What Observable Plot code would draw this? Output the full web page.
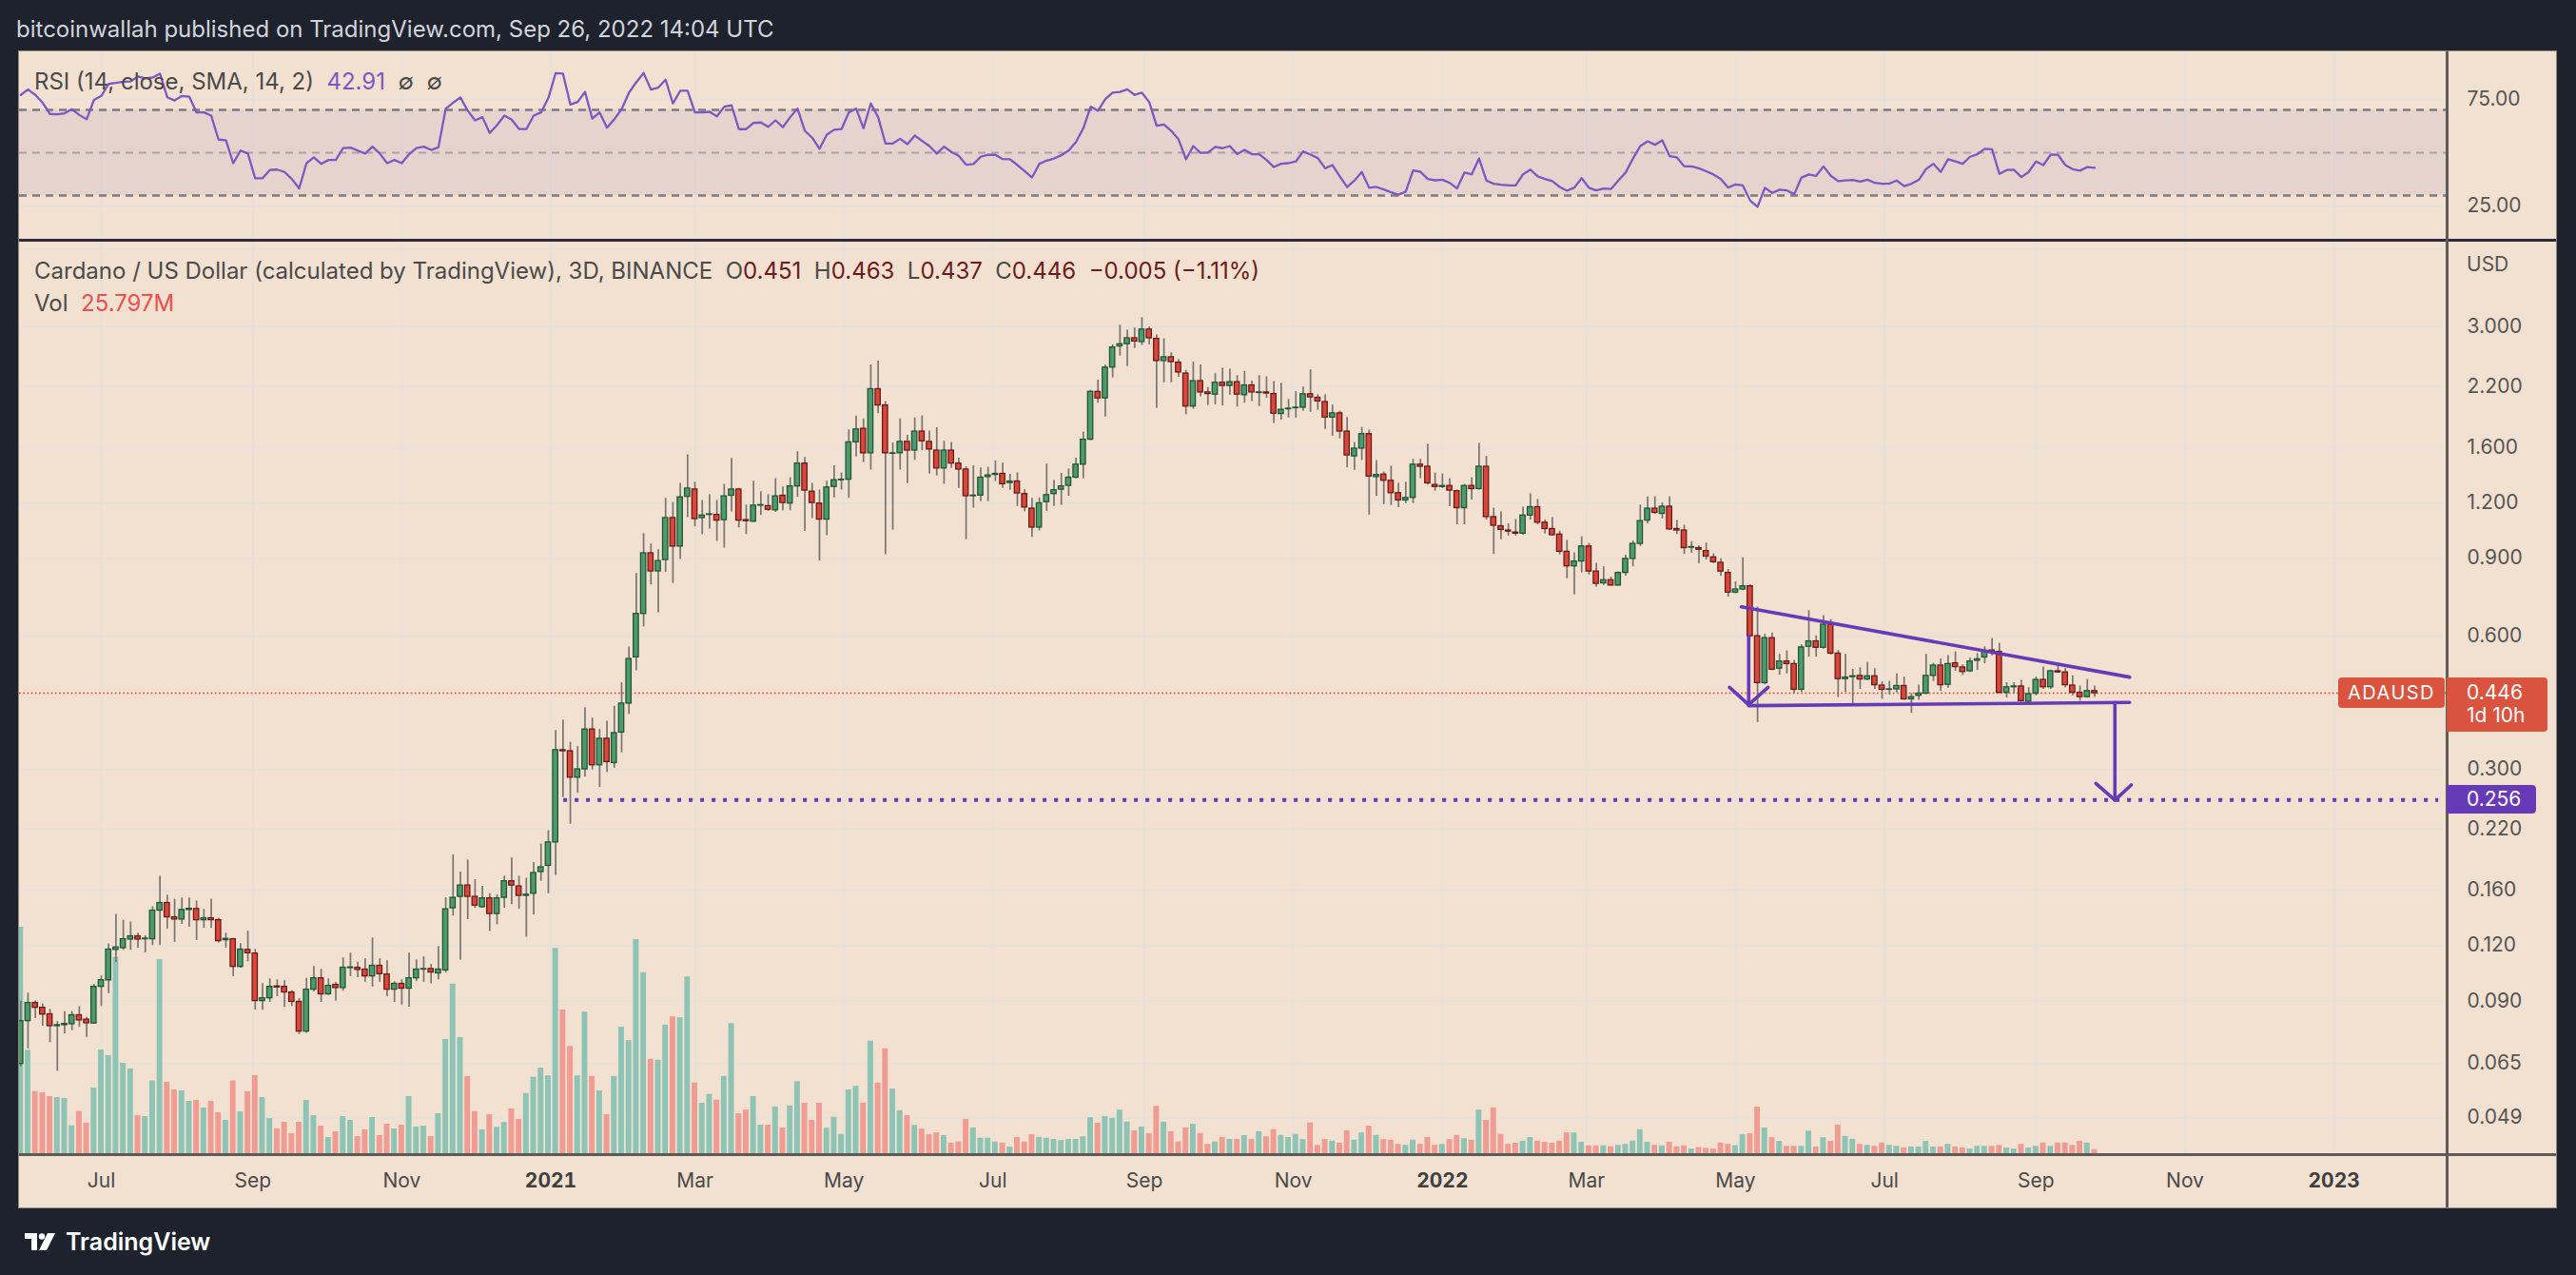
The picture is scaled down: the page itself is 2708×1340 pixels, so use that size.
<!DOCTYPE html>
<html><head><meta charset="utf-8">
<script src="https://cdn.jsdelivr.net/npm/d3@7"></script>
<script src="https://cdn.jsdelivr.net/npm/@observablehq/plot@0.6"></script>
<style>
html,body{margin:0;padding:0;background:#1e222d;}
body{width:2708px;height:1340px;position:relative;overflow:hidden;font-family:Inter,Roboto,"Noto Sans",sans-serif;}
#header{position:absolute;left:17px;top:17px;font-size:24px;line-height:28px;color:#d1d4dc;white-space:pre;}
#frame{position:absolute;left:20px;top:54px;width:2667px;height:1215px;background:#f2e1d0;box-shadow:0 0 0 1px #8f8a86;overflow:hidden;}
.layer{position:absolute;left:0;}
.legend{position:absolute;left:16px;font-size:24px;line-height:28px;color:#4a4a4a;white-space:pre;}
.sep{position:absolute;}
.box{position:absolute;color:#fff;font-size:20px;box-sizing:border-box;}
#logo{position:absolute;left:26px;top:1290px;display:flex;align-items:center;gap:9px;color:#fff;font-size:25px;font-weight:600;}
</style></head><body>
<div id="header">bitcoinwallah published on TradingView.com, Sep 26, 2022 14:04 UTC</div>
<div id="frame"></div>
<div id="logo"><svg width="34" height="22" viewBox="0 0 34 22"><path d="M0 2H13V20H7V8H0Z" fill="#fff"/><circle cx="18" cy="5.5" r="3.2" fill="#fff"/><path d="M24 2H32L23 20H15Z" fill="#fff"/></svg><span>TradingView</span></div>
<script>
// ---------- data (3D bars, ADAUSD, from 2020-05-29 every 3 days) ----------
const firstBar = "2020-05-29";
const open = [
.0648,.0810,.0890,.0868,.0839,.0789,.0793,.0797,.0835,.0816,
.0800,.0968,.1001,.1173,.1184,.1238,.1259,.1240,.1240,.1439,
.1497,.1390,.1374,.1444,.1451,.1369,.1383,.1369,.1234,.1240,
.1074,.1173,.1151,.0899,.0912,.0970,.0968,.0940,.0895,.0767,
.0954,.1012,.0931,.0978,.0962,.1067,.1069,.1059,.1022,.1080,
.1032,.0954,.0983,.0959,.1012,.1059,.1062,.1038,.1054,.1457,
.1546,.1640,.1546,.1465,.1534,.1414,.1538,.1676,.1632,.1554,
.1571,.1759,.1817,.2052,.3316,.3298,.2874,.3001,.3693,.3066,
.3519,.3100,.3634,.4226,.5375,.6737,.9236,.8405,.8918,1.1094,
.9565,1.2391,1.2870,1.1094,1.1280,1.1280,1.0976,1.2457,1.2870,1.0976,
1.0887,1.1836,1.1804,1.1553,1.2457,1.1965,1.3079,1.4725,1.2730,1.1965,
1.1005,1.3043,1.3508,1.3545,1.6446,1.765,1.554,2.169,1.993,1.550,
1.554,1.649,1.576,1.740,1.649,1.576,1.436,1.576,1.473,1.428,
1.243,1.247,1.373,1.389,1.396,1.331,1.342,1.257,1.165,1.056,
1.205,1.257,1.286,1.312,1.369,1.465,1.668,2.139,2.068,2.427,
2.710,2.741,2.827,2.772,2.958,2.819,2.511,2.561,2.490,2.353,
1.982,2.262,2.133,2.109,2.243,2.206,2.250,2.103,2.212,2.127,
2.133,2.115,1.907,1.954,1.965,1.970,2.113,2.074,2.029,1.872,
1.913,1.740,1.529,1.592,1.717,1.373,1.391,1.347,1.263,1.216,
1.232,1.465,1.449,1.318,1.304,1.311,1.276,1.168,1.311,1.290,
1.449,1.115,1.063,1.040,1.029,1.023,1.124,1.174,1.083,1.048,
1.018,.931,.863,.885,.957,.840,.790,.803,.781,.834,
.897,.970,1.095,1.165,1.134,1.177,1.048,1.040,.951,.949,
.934,.904,.879,.834,.753,.765,.778,.600,.470,.594,
.507,.526,.519,.454,.568,.584,.565,.637,.548,.480,
.485,.488,.479,.487,.464,.454,.455,.463,.432,.440,
.445,.488,.515,.466,.521,.510,.500,.528,.537,.557,
.553,.447,.460,.462,.427,.445,.478,.460,.500,.497,
.464,.447,.437,.451];
const high = [
.0898,.0937,.0900,.0886,.0861,.0808,.0851,.0851,.0873,.0826,
.0980,.1024,.1210,.1411,.1369,.1356,.1280,.1263,.1468,.1722,
.1560,.1527,.1537,.1537,.1512,.1448,.1527,.1383,.1280,.1245,
.1212,.1293,.1176,.0984,.1009,.1004,.0999,.0949,.0911,.1012,
.1076,.1060,.1009,.0991,.1125,.1153,.1101,.1120,.1248,.1120,
.1109,.0994,.1004,.1153,.1114,.1131,.1087,.1194,.1538,.1923,
.1759,.1872,.1690,.1632,.1571,.1563,.1722,.1892,.1722,.1703,
.1847,.2035,.2183,.3673,.3877,.3453,.3379,.4136,.3919,.3693,
.3856,.4169,.4707,.5670,.8314,1.0233,.9696,.9412,1.2292,1.2029,
1.3291,1.5415,1.3363,1.2160,1.2526,1.2160,1.3220,1.5127,1.2950,1.1868,
1.3436,1.2730,1.2526,1.3618,1.3043,1.3691,1.5667,1.5209,1.3291,1.2834,
1.3436,1.4567,1.4028,1.7546,1.8870,1.857,2.462,2.511,2.033,1.640,
1.857,1.706,1.867,1.888,1.745,1.775,1.654,1.645,1.515,1.448,
1.456,1.440,1.444,1.494,1.477,1.392,1.404,1.286,1.229,1.232,
1.469,1.350,1.400,1.432,1.515,1.735,2.157,2.275,2.462,2.733,
3.026,2.950,2.983,3.148,3.000,2.876,2.819,2.620,2.533,2.393,
2.497,2.462,2.187,2.353,2.420,2.407,2.327,2.380,2.262,2.327,
2.314,2.256,2.236,2.057,2.142,2.194,2.399,2.107,2.107,1.997,
1.933,1.872,1.644,1.778,1.754,1.496,1.410,1.453,1.329,1.336,
1.505,1.505,1.627,1.403,1.395,1.362,1.283,1.322,1.369,1.636,
1.529,1.168,1.146,1.077,1.101,1.174,1.259,1.222,1.098,1.112,
1.037,.988,.926,1.007,.972,.877,.861,.816,.838,.914,
.985,1.187,1.239,1.239,1.200,1.239,1.095,1.068,.982,.960,
.974,.921,.898,.849,.796,.902,.783,.698,.606,.610,
.546,.556,.529,.574,.685,.601,.668,.654,.557,.546,
.505,.509,.523,.507,.473,.474,.493,.485,.445,.465,
.546,.521,.533,.543,.553,.517,.536,.548,.568,.593,
.578,.471,.471,.477,.459,.485,.511,.503,.522,.507,
.488,.463,.479,.463];
const low = [
.0638,.0701,.0821,.0789,.0724,.0624,.0758,.0771,.0784,.0744,
.0797,.0874,.0934,.1099,.1171,.1171,.1184,.1155,.1200,.1200,
.1307,.1220,.1340,.1320,.1232,.1312,.1312,.1216,.1184,.1021,
.1067,.1103,.0858,.0857,.0893,.0920,.0870,.0874,.0755,.0760,
.0943,.0893,.0925,.0898,.0946,.1021,.1015,.0991,.0967,.0991,
.0920,.0893,.0880,.0871,.0996,.0991,.0983,.1004,.1040,.1399,
.1112,.1373,.1457,.1457,.1291,.1337,.1457,.1485,.1449,.1253,
.1407,.1676,.1571,.1727,.2594,.2255,.2651,.2882,.2993,.2731,
.2953,.3017,.3271,.3994,.5009,.6298,.7835,.6774,.8360,.7899,
.8942,1.1124,1.0597,1.0178,1.0484,.9827,.9488,1.1460,1.0540,1.0178,
1.0858,1.1245,1.1490,1.1428,1.1522,1.1522,1.2358,1.0343,1.1064,.8870,
1.0123,1.2325,1.2834,1.2292,1.5251,1.481,1.424,1.910,.917,1.041,
1.424,1.327,1.498,1.576,1.396,1.381,1.323,1.436,1.294,.992,
1.168,1.208,1.208,1.342,1.294,1.282,1.178,1.146,1.004,1.038,
1.149,1.178,1.185,1.243,1.361,1.361,1.659,2.016,1.878,2.301,
2.576,2.441,2.680,2.725,2.733,1.965,2.243,2.243,2.307,1.899,
1.954,2.085,1.993,1.999,1.988,2.103,1.976,2.016,2.033,1.982,
2.068,1.815,1.847,1.867,1.867,1.933,1.923,1.944,1.759,1.699,
1.676,1.441,1.422,1.496,1.127,1.243,1.190,1.184,1.171,1.196,
1.196,1.362,1.318,1.276,1.294,1.177,1.071,1.071,1.219,1.283,
1.098,.918,.991,1.010,1.010,1.015,1.098,1.071,1.021,1.010,
.916,.809,.744,.834,.825,.775,.781,.779,.779,.820,
.861,.957,1.077,1.131,1.104,1.040,1.018,.918,.924,.875,
.892,.875,.819,.736,.748,.760,.597,.383,.466,.502,
.490,.493,.445,.448,.538,.538,.561,.544,.436,.448,
.422,.455,.476,.455,.432,.442,.447,.430,.402,.430,
.443,.474,.450,.458,.500,.489,.497,.502,.520,.542,
.445,.435,.445,.427,.423,.440,.455,.455,.495,.459,
.440,.428,.435,.437];
const close = [
.0810,.0890,.0868,.0838,.0789,.0793,.0798,.0835,.0813,.0801,
.0968,.1002,.1175,.1188,.1240,.1259,.1238,.1244,.1439,.1497,
.1390,.1374,.1444,.1453,.1369,.1383,.1369,.1228,.1242,.1074,
.1175,.1153,.0899,.0912,.0968,.0965,.0940,.0895,.0767,.0954,
.1012,.0931,.0973,.0962,.1069,.1071,.1057,.1022,.1080,.1034,
.0954,.0983,.0959,.1012,.1059,.1062,.1043,.1059,.1449,.1538,
.1640,.1546,.1477,.1534,.1414,.1534,.1676,.1640,.1554,.1563,
.1750,.1803,.2052,.3316,.3298,.2874,.3001,.3693,.3066,.3519,
.3116,.3624,.4226,.5329,.6737,.9236,.8405,.8870,1.1094,.9565,
1.2358,1.2938,1.1035,1.1245,1.1313,1.0946,1.2424,1.2870,1.0946,1.0917,
1.1836,1.1868,1.1584,1.2424,1.1997,1.3079,1.4725,1.2799,1.1997,1.1005,
1.3008,1.3508,1.3545,1.6446,1.7593,1.554,2.169,1.993,1.554,1.554,
1.649,1.576,1.740,1.654,1.585,1.436,1.576,1.473,1.428,1.243,
1.247,1.369,1.385,1.396,1.323,1.342,1.261,1.172,1.056,1.198,
1.250,1.282,1.308,1.369,1.465,1.668,2.139,2.068,2.427,2.695,
2.741,2.827,2.780,2.958,2.827,2.511,2.561,2.497,2.366,1.982,
2.262,2.133,2.115,2.243,2.206,2.250,2.109,2.212,2.133,2.133,
2.121,1.910,1.949,1.960,1.970,2.113,2.079,2.035,1.872,1.913,
1.740,1.537,1.592,1.717,1.377,1.388,1.347,1.263,1.216,1.232,
1.465,1.449,1.329,1.304,1.311,1.280,1.168,1.311,1.290,1.449,
1.115,1.066,1.043,1.034,1.023,1.124,1.174,1.083,1.048,1.015,
.931,.863,.885,.957,.840,.788,.803,.781,.834,.897,
.970,1.092,1.165,1.140,1.177,1.046,1.040,.949,.954,.941,
.908,.882,.840,.753,.765,.778,.600,.470,.594,.504,
.526,.519,.454,.566,.584,.565,.637,.548,.480,.484,
.487,.479,.487,.465,.454,.455,.463,.432,.437,.445,
.488,.515,.465,.519,.511,.498,.526,.532,.555,.553,
.447,.460,.462,.428,.444,.478,.460,.500,.497,.465,
.447,.437,.451,.446];
const volumeM = [
1195,548,332,325,305,300,295,152,227,165,
350,550,520,1037,480,450,205,200,387,1025,
380,340,335,280,285,245,280,220,180,387,
225,330,415,300,190,135,170,110,170,285,
205,150,90,120,200,180,95,130,195,100,
160,135,155,305,145,150,95,215,605,896,
615,411,226,131,210,144,169,240,185,321,
406,455,414,1084,760,569,414,749,411,335,
210,411,670,599,1130,956,501,496,681,724,
719,934,376,270,316,286,411,689,215,234,
305,155,155,251,139,256,384,270,180,270,
139,196,106,340,359,271,596,376,556,345,
231,205,154,134,105,114,100,60,66,185,
140,86,86,66,60,40,91,66,105,91,
86,80,74,80,80,94,194,165,200,191,
234,171,125,145,111,254,171,120,66,140,
160,111,54,66,91,80,80,100,80,120,
94,131,101,90,106,79,166,49,79,71,
60,125,76,114,150,101,79,76,54,49,
76,54,90,49,54,79,101,84,76,234,
180,245,106,54,60,71,90,71,65,60,
71,114,114,65,46,46,46,41,49,54,
71,131,65,49,46,65,41,46,30,37,
33,30,61,54,47,105,110,250,140,89,
70,44,44,44,124,40,89,70,155,96,
80,54,49,44,61,49,44,35,40,40,
70,40,40,54,40,35,30,44,44,44,
49,35,30,54,35,44,61,44,61,61,
49,70,61,25.797];
const rsi14 = [
77.0,79.5,77.0,73.3,68.1,67.9,68.4,70.3,67.6,65.6,
74.7,76.5,82.1,82.6,83.2,83.3,85.6,84.7,85.1,86.9,
75.9,74.4,76.5,76.2,68.8,68.8,67.3,56.1,55.8,45.1,
51.0,49.6,38.0,38.1,41.9,42.1,41.0,37.7,33.3,45.1,
47.8,44.8,46.6,46.6,52.2,52.4,51.0,49.6,52.8,49.6,
45.1,46.6,45.1,49.3,52.2,52.8,51.3,52.5,70.6,73.3,
75.8,69.6,65.1,66.6,59.2,62.9,67.3,65.4,61.1,61.0,
67.3,68.8,75.5,87.2,86.9,72.5,73.7,78.4,65.9,68.8,
61.7,65.6,70.3,78.0,82.9,87.2,79.5,80.4,84.1,73.0,
78.9,78.9,68.8,68.8,69.1,67.0,71.5,72.1,61.0,61.0,
63.9,64.1,62.1,65.1,61.9,66.6,70.6,60.2,57.0,51.8,
58.4,60.7,61.0,68.8,70.6,61.4,73.0,66.6,54.3,54.3,
56.5,54.0,58.0,55.5,53.1,49.6,52.8,50.3,48.5,44.4,
44.7,48.1,49.0,49.0,47.0,46.9,44.2,41.4,38.4,44.8,
46.3,47.3,48.8,51.0,55.0,61.4,71.5,69.6,75.0,78.0,
78.4,79.6,77.0,78.0,73.6,62.6,63.2,60.2,56.2,46.9,
53.1,49.9,50.1,52.7,52.1,53.1,49.3,51.3,49.3,49.3,
46.6,43.3,44.8,45.1,45.9,50.6,49.1,47.5,42.7,44.2,
38.9,33.9,37.0,41.0,33.6,34.0,32.8,31.5,30.4,31.8,
41.7,41.1,37.7,37.1,37.4,35.9,33.3,40.7,39.9,47.3,
37.0,35.5,35.0,34.7,34.7,39.9,42.1,38.9,37.7,36.7,
34.0,32.2,33.7,38.1,33.6,32.4,33.3,33.0,37.0,40.7,
47.3,53.1,55.3,53.7,55.8,48.4,47.8,43.6,43.6,42.7,
41.3,39.8,37.7,33.7,35.2,34.7,27.6,24.7,33.6,31.2,
32.7,32.4,30.6,38.4,39.8,39.2,43.6,39.2,36.7,37.0,
37.3,36.5,37.4,35.9,35.5,35.6,37.0,34.4,35.5,37.3,
42.4,44.8,41.0,46.9,45.9,44.8,48.1,49.3,51.8,51.6,
40.1,41.9,42.0,38.6,41.0,45.9,44.2,49.1,49.0,44.2,
42.3,41.6,43.3,42.91];

// axes / ticks
const timeTickDates = ["2020-07-01","2020-09-01","2020-11-01","2021-01-01","2021-03-01","2021-05-01","2021-07-01","2021-09-01","2021-11-01","2022-01-01","2022-03-01","2022-05-01","2022-07-01","2022-09-01","2022-11-01","2023-01-01"];
const timeTickLabels = ["Jul","Sep","Nov","2021","Mar","May","Jul","Sep","Nov","2022","Mar","May","Jul","Sep","Nov","2023"];
const priceTicks = [3, 2.2, 1.6, 1.2, 0.9, 0.6, 0.3, 0.22, 0.16, 0.12, 0.09, 0.065, 0.049];
const priceGridExtra = [4.5];
const rsiTicks = [75, 25];
const rsiLevels = [70, 50, 30];
const xDomainDates = ["2020-05-28T12:16:00Z", "2023-02-16T06:43:00Z"];
const priceDomain = [0.04043, 4.661];
const rsiDomain = [9.1, 97.1];
const volumeDomain = [0, 4795];

// annotations drawn on the chart (date, price)
const targetPrice = 0.256;
const targetSpan = ["2021-01-06T07:00:00Z", "2023-02-12T20:00:00Z"];
const drawingIds =   ["upper","upper","lower","lower","shaft1","shaft1","head1","head1","head1","shaft2","shaft2","head2","head2","head2"];
const drawingDates = ["2022-05-03T08:00Z","2022-10-09T07:00Z","2022-05-06T09:00Z","2022-10-09T07:00Z","2022-05-06T09:00Z","2022-05-06T09:00Z","2022-04-28T12:00Z","2022-05-06T09:00Z","2022-05-14T07:00Z","2022-10-03T07:00Z","2022-10-03T07:00Z","2022-09-25T12:00Z","2022-10-03T07:00Z","2022-10-10T00:00Z"];
const drawingPrices = [0.699,0.485,0.418,0.425,0.600,0.420,0.460,0.420,0.460,0.425,0.2557,0.279,0.2557,0.2767];

// ---------- build ----------
const DAY = 864e5;
const t0 = Date.parse(firstBar + "T00:00:00Z");
const bars = open.map((o, i) => ({
  date: new Date(t0 + i * 3 * DAY), open: o, high: high[i], low: low[i], close: close[i],
  volume: volumeM[i], rsi: rsi14[i], up: close[i] >= o
}));
const xDomain = xDomainDates.map(s => new Date(s));
const ticks = timeTickDates.map(s => new Date(s + "T00:00:00Z"));
const labelOf = d => timeTickLabels[ticks.findIndex(t => +t === +d)];
const monthTicks = ticks.filter((t, i) => timeTickLabels[i].length < 4);
const yearTicks = ticks.filter((t, i) => timeTickLabels[i].length === 4);
const drawings = drawingIds.map((id, i) => ({id, date: new Date(drawingDates[i]), price: drawingPrices[i]}));
const last = bars[bars.length - 1], prev = bars[bars.length - 2];

const GRID = "#e7e1dc", PURPLE = "#673ab7", RSI_C = "#7e57c2";
const UP_FILL = "#4e9a6c", UP_LINE = "#1f5734", DN_FILL = "#d8473a", DN_LINE = "#6d1a16", WICK = "#787474";
const VOL_UP = "#8ec4b5", VOL_DN = "#f09c93";
const W = 2667, MR = 115;
const baseStyle = {background: "transparent", fontFamily: "Inter, Roboto, sans-serif", fontSize: "21px", color: "#555", overflow: "visible"};

const frame = document.getElementById("frame");
function place(el, top) { el.classList.add("layer"); el.style.top = top + "px"; frame.appendChild(el); return el; }

// RSI pane
const rsiPlot = Plot.plot({
  width: W, height: 198, marginLeft: 0, marginRight: MR, marginTop: 0, marginBottom: 0,
  style: baseStyle,
  x: {type: "utc", domain: xDomain, axis: null},
  y: {domain: rsiDomain, axis: null},
  marks: [
    Plot.ruleX(ticks, {stroke: GRID, strokeWidth: 1.8}),
    Plot.ruleY(rsiTicks, {stroke: GRID, strokeWidth: 1.8}),
    Plot.rect([{a: xDomain[0], b: xDomain[1], lo: rsiLevels[2], hi: rsiLevels[0]}], {x1: "a", x2: "b", y1: "lo", y2: "hi", fill: RSI_C, fillOpacity: 0.1}),
    Plot.ruleY([rsiLevels[0], rsiLevels[2]], {stroke: "#787b86", strokeWidth: 2.4, strokeDasharray: "8,6"}),
    Plot.ruleY([rsiLevels[1]], {stroke: "#a6a4a6", strokeWidth: 2.2, strokeDasharray: "8,6"}),
    Plot.line(bars, {x: "date", y: "rsi", stroke: RSI_C, strokeWidth: 2.3}),
    Plot.text(rsiTicks.map(v => ({v, x: xDomain[1]})), {x: "x", y: "v", text: d => d.v.toFixed(2), dx: 21, textAnchor: "start", fontSize: 21, fill: "#555"})
  ]
});
place(rsiPlot, 0);

// price pane: grid + axes
const gridPlot = Plot.plot({
  width: W, height: 1015, marginLeft: 0, marginRight: MR, marginTop: 0, marginBottom: 56,
  style: baseStyle,
  x: {type: "utc", domain: xDomain},
  y: {type: "log", domain: priceDomain, axis: null},
  marks: [
    Plot.ruleY(priceTicks.concat(priceGridExtra), {stroke: GRID, strokeWidth: 1.8}),
    Plot.ruleX(ticks, {stroke: GRID, strokeWidth: 1.8}),
    Plot.text(priceTicks.map(p => ({p, x: xDomain[1]})), {x: "x", y: "p", text: d => d.p.toFixed(3), dx: 21, textAnchor: "start", fontSize: 21, fill: "#555"}),
    Plot.axisX({anchor: "bottom", ticks: monthTicks, tickSize: 0, tickPadding: 20, tickFormat: labelOf, fontSize: 21, color: "#4a4a4a", label: null}),
    Plot.axisX({anchor: "bottom", ticks: yearTicks, tickSize: 0, tickPadding: 20, tickFormat: labelOf, fontSize: 21, fontWeight: "bold", color: "#3f3f3f", label: null})
  ]
});
place(gridPlot, 200);

// volume overlay
const volPlot = Plot.plot({
  width: W, height: 959, marginLeft: 0, marginRight: MR, marginTop: 0, marginBottom: 0,
  style: baseStyle,
  x: {type: "utc", domain: xDomain, axis: null},
  y: {domain: volumeDomain, axis: null},
  marks: [
    Plot.rect(bars, {x1: d => new Date(+d.date - 1.15 * DAY), x2: d => new Date(+d.date + 1.15 * DAY), y1: 0, y2: "volume", fill: d => d.up ? VOL_UP : VOL_DN})
  ]
});
place(volPlot, 200);

// candles + drawings
const candlePlot = Plot.plot({
  width: W, height: 1015, marginLeft: 0, marginRight: MR, marginTop: 0, marginBottom: 56,
  style: baseStyle,
  x: {type: "utc", domain: xDomain, axis: null},
  y: {type: "log", domain: priceDomain, axis: null},
  marks: [
    Plot.ruleY([last.close], {stroke: "#e0493b", strokeWidth: 1.6, strokeDasharray: "1.8,2.4"}),
    Plot.ruleY([{p: targetPrice, a: new Date(targetSpan[0]), b: new Date(targetSpan[1])}], {y: "p", x1: "a", x2: "b", stroke: PURPLE, strokeWidth: 4, strokeDasharray: "4,8"}),
    Plot.ruleX(bars, {x: "date", y1: "low", y2: "high", stroke: WICK, strokeWidth: 1.7}),
    Plot.rect(bars, {x1: d => new Date(+d.date - 1.05 * DAY), x2: d => new Date(+d.date + 1.05 * DAY), y1: "open", y2: "close",
      fill: d => d.up ? UP_FILL : DN_FILL, stroke: d => d.up ? UP_LINE : DN_LINE, strokeWidth: 1.3}),
    Plot.line(drawings, {x: "date", y: "price", z: "id", stroke: PURPLE, strokeWidth: 3.6, strokeLinecap: "round", strokeLinejoin: "round"})
  ]
});
place(candlePlot, 200);

// separators
function div(cls, css, html) { const d = document.createElement("div"); d.className = cls; d.style.cssText = css; if (html != null) d.innerHTML = html; frame.appendChild(d); return d; }
div("sep", "left:0;top:197px;width:2667px;height:3px;background:#2a2e39;");
div("sep", "left:0;top:1158px;width:2667px;height:3px;background:#5d5b59;");
div("sep", "left:2551px;top:0;width:3px;height:1215px;background:#5d5b59;");

// legends
const fmt = v => v.toFixed(3);
const chg = last.close - prev.close, pct = chg / prev.close * 100;
const sgn = v => (v < 0 ? "\u2212" : "+") + Math.abs(v).toFixed(3);
const V = s => `<span style="color:#6e1a1a">${s}</span>`;
div("legend", "top:18px;", `RSI (14, close, SMA, 14, 2)  <span style="color:${RSI_C}">${last.rsi.toFixed(2)}</span>  \u2205  \u2205`);
div("legend", "top:217px;", `Cardano / US Dollar (calculated by TradingView), 3D, BINANCE  O${V(fmt(last.open))}  H${V(fmt(last.high))}  L${V(fmt(last.low))}  C${V(fmt(last.close))}  ${V(sgn(chg) + " (" + (pct < 0 ? "\u2212" : "+") + Math.abs(pct).toFixed(2) + "%)")}`);
div("legend", "top:251px;", `Vol  <span style="color:#ef4f4f">${last.volume.toFixed(3)}M</span>`);

// price labels placed via the plot's y scale
const yS = candlePlot.scale("y");
const yLast = 200 + yS.apply(last.close);
const yTarget = 200 + yS.apply(targetPrice);
div("box", `left:2438px;top:${yLast - 16}px;width:112px;height:32px;background:#d9533f;border-radius:4px;text-align:center;line-height:32px;letter-spacing:1.5px;`, "ADAUSD");
div("box", `left:2552px;top:${yLast - 16}px;width:106px;height:57px;background:#d9533f;border-radius:0 4px 4px 0;padding-left:21px;line-height:24px;padding-top:4px;font-size:21px;`, `${fmt(last.close)}<br>1d 10h`);
div("box", `left:2552px;top:${yTarget - 15}px;width:94px;height:30px;background:${PURPLE};border-radius:0 4px 4px 0;padding-left:21px;line-height:30px;font-size:21px;`, fmt(targetPrice));
div("legend", "left:2573px;top:211px;font-size:21px;line-height:26px;color:#555;", "USD");
</script>
</body></html>
